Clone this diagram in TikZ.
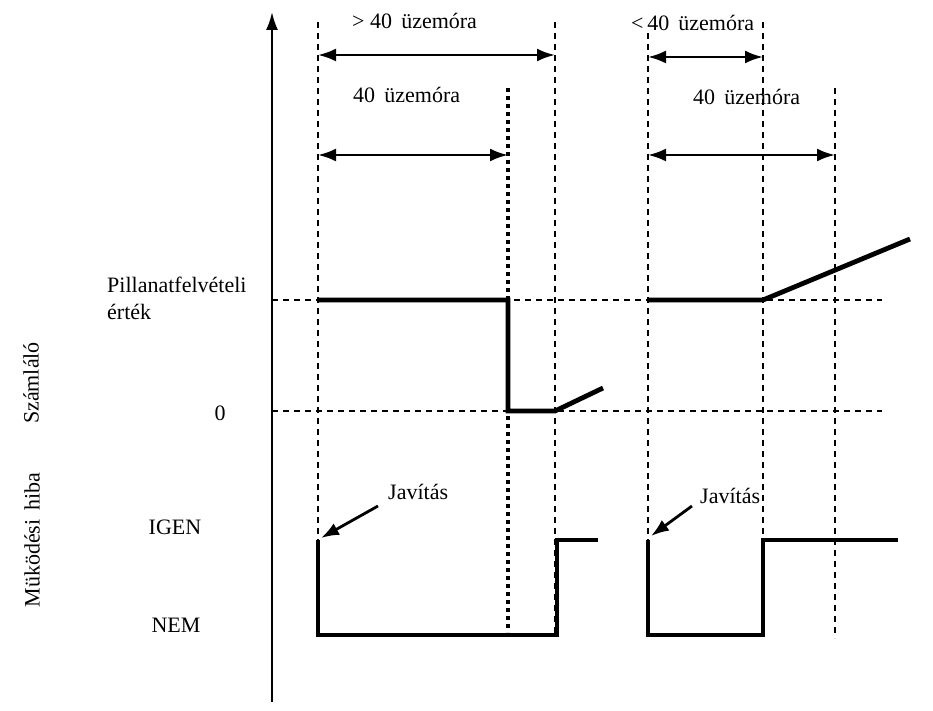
\documentclass[tikz,border=0pt]{standalone}
\usepackage{fontspec}
\setmainfont{Liberation Serif}
\usetikzlibrary{arrows.meta}
\tikzset{
  guide/.style={dashed,line width=1.7pt,dash pattern=on 6pt off 5pt},
  guidebold/.style={line width=3.2pt,dash pattern=on 4pt off 4pt},
  span/.style={{Latex[length=18pt,width=13pt]}-{Latex[length=18pt,width=13pt]},line width=2.6pt},
  trace/.style={line width=4.8pt,line join=miter},
  lbl/.style={font=\fontsize{22}{26}\selectfont,inner sep=0pt},
  note/.style={-{Latex[length=18pt,width=13pt]},line width=2.8pt}
}
\begin{document}
\begin{tikzpicture}[x=1pt,y=-1pt]
\useasboundingbox (0,0) rectangle (933,711);
% axis
\coordinate (ax0) at (272,702);
\coordinate (ax1) at (272,12);
\draw[-{Latex[length=18pt,width=12pt]},line width=2.2pt] (ax0) -- (ax1);
% level lines
\coordinate (pv0) at (272,300); \coordinate (pv1) at (882,300);
\coordinate (z0) at (272,411); \coordinate (z1) at (882,411);
\draw[guide] (pv0) -- (pv1);
\draw[guide] (z0) -- (z1);
% time marks
\draw[guide] (318,22) -- (318,636);
\draw[guidebold] (508,88) -- (508,632);
\draw[guide] (555,22) -- (555,636);
\draw[guide] (648,22) -- (648,636);
\draw[guide] (763,22) -- (763,636);
\draw[guide] (835,88) -- (835,638);
% durations
\coordinate (a1) at (318,55); \coordinate (a2) at (555,55);
\coordinate (b1) at (318,155); \coordinate (b2) at (508,155);
\coordinate (c1) at (648,57); \coordinate (c2) at (763,57);
\coordinate (d1) at (648,155); \coordinate (d2) at (835,155);
\draw[span] (a1) -- (a2);
\draw[span] (b1) -- (b2);
\draw[span] (c1) -- (c2);
\draw[span] (d1) -- (d2);
\node[lbl,anchor=west] (ta) at (352,21) {> 40\, üzemóra};
\node[lbl,anchor=west] (tb) at (353,95) {40\, üzemóra};
\node[lbl,anchor=west,fill=white,inner sep=1pt] (tc) at (630,23) {<\,40\, üzemóra};
\node[lbl,anchor=west] (td) at (693,97) {40\, üzemóra};
% counter
\draw[trace] (318,300) -- (508,300) -- (508,411) -- (555,411) -- (603,388);
\draw[trace] (648,300) -- (763,300) -- (910,239);
% fault flag
\draw[trace] (318,540) -- (318,635) -- (557,635) -- (557,540) -- (598,540);
\draw[trace] (648,540) -- (648,635) -- (763,635) -- (763,540) -- (898,540);
% repair notes
\node[lbl,anchor=west] (ja) at (388,492) {Javítás};
\node[lbl,anchor=west] (jb) at (700,496) {Javítás};
\coordinate (ja0) at (378,506); \coordinate (ja1) at (321,538);
\coordinate (jb0) at (692,506); \coordinate (jb1) at (651,536);
\draw[note] (ja0) -- (ja1);
\draw[note] (jb0) -- (jb1);
% axis labels
\node[lbl,align=left,anchor=west] (pv) at (107,298) {Pillanatfelvételi\\[1pt]érték};
\node[lbl] (zero) at (220,413) {0};
\node[lbl] (igen) at (175,527) {IGEN};
\node[lbl] (nem) at (176,625) {NEM};
\node[lbl,rotate=90] (cnt) at (31,383) {Számláló};
\node[lbl,rotate=90] (hiba) at (32,540) {Müködési\, hiba};
\end{tikzpicture}
\end{document}
